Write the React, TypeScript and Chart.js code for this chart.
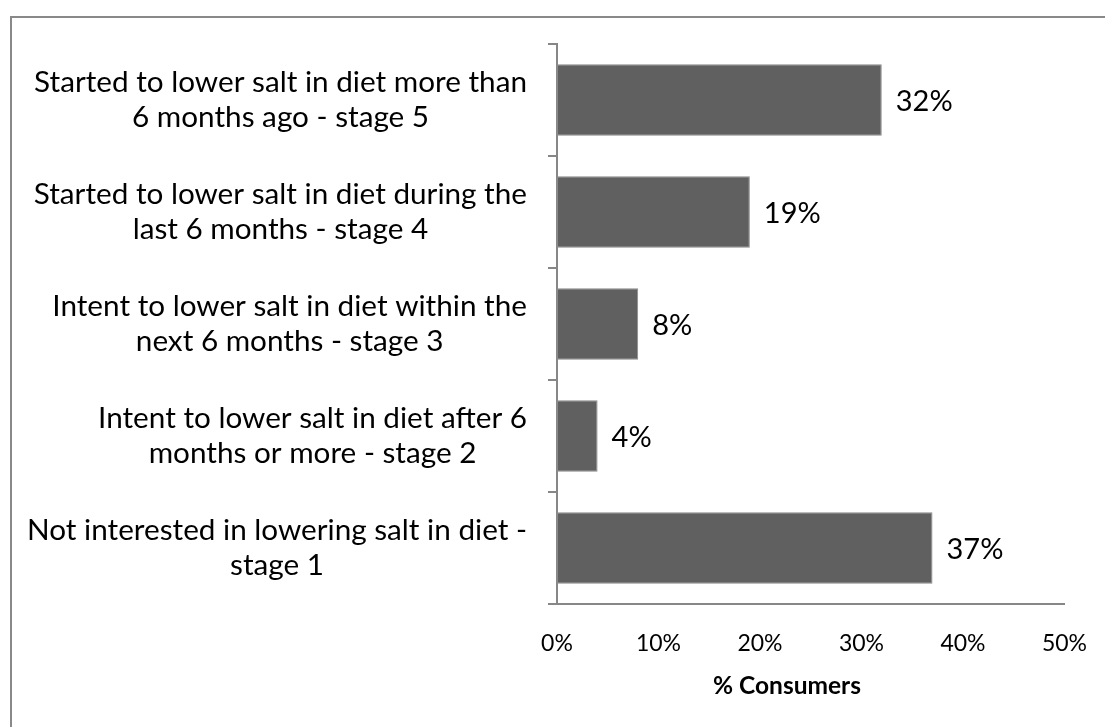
import React, { useEffect, useRef } from "react";
import { Chart, registerables } from "chart.js";

Chart.register(...registerables);

const categories: string[][] = [
  ["Started to lower salt in diet more than", "6 months ago - stage 5"],
  ["Started to lower salt in diet during the", "last 6 months - stage 4"],
  ["Intent to lower salt in diet within the", "next 6 months - stage 3"],
  ["Intent to lower salt in diet after 6", "months or more - stage 2"],
  ["Not interested in lowering salt in diet -", "stage 1"],
];
const consumerShare: number[] = [32, 19, 8, 4, 37];
const xTickMax = 50;
const xTickStep = 10;
const xTitle = "% Consumers";

const FONT = "Lato, 'Noto Sans', sans-serif";
const LABEL_SIZE = 29.7;
const AXIS_COLOR = "#878787";

export default function App() {
  const canvasRef = useRef<HTMLCanvasElement | null>(null);

  useEffect(() => {
    document.body.style.margin = "0";
    const canvas = canvasRef.current;
    if (!canvas) return;

    const labelPlugin = {
      id: "customLabels",
      afterDraw(chart: any) {
        const ctx = chart.ctx;
        const yScale = chart.scales.y;
        const meta = chart.getDatasetMeta(0);
        ctx.save();
        ctx.fillStyle = "#000";
        ctx.font = `${LABEL_SIZE}px ${FONT}`;
        ctx.textBaseline = "middle";
        const lineH = 35;
        const rightEdge = yScale.right - 30;
        categories.forEach((lines, i) => {
          const cy = yScale.getPixelForTick(i);
          const widest = Math.max(...lines.map((l) => ctx.measureText(l).width));
          const cx = rightEdge - widest / 2;
          ctx.textAlign = "center";
          lines.forEach((l, j) => {
            const y = cy + (j - (lines.length - 1) / 2) * lineH;
            ctx.fillText(l, cx, y);
          });
        });
        // value labels
        ctx.font = `29px ${FONT}`;
        ctx.textAlign = "left";
        meta.data.forEach((bar: any, i: number) => {
          ctx.fillText(consumerShare[i] + "%", bar.x + 14, bar.y + 2);
        });
        // axis title
        ctx.font = `bold 24.5px ${FONT}`;
        ctx.textAlign = "center";
        ctx.fillText(xTitle, 787, 686);
        ctx.restore();
      },
    };

    const chart = new Chart(canvas, {
      type: "bar",
      data: {
        labels: categories.map((c) => c.join(" ")),
        datasets: [
          {
            data: consumerShare,
            backgroundColor: "#606060",
            borderColor: "#8a8a8a",
            borderWidth: 1,
            borderSkipped: false,
            categoryPercentage: 1,
            barPercentage: 0.64,
          },
        ],
      },
      options: {
        indexAxis: "y",
        responsive: false,
        animation: false,
        layout: { padding: { top: 44, right: 40, left: 0, bottom: 0 } },
        plugins: {
          legend: { display: false },
          tooltip: { enabled: false },
        },
        scales: {
          x: {
            min: 0,
            max: xTickMax,
            ticks: {
              stepSize: xTickStep,
              callback: (v: any) => v + "%",
              color: "#000",
              font: { family: FONT, size: 23 },
              padding: 18,
            },
            grid: { display: false },
            border: { display: true, color: AXIS_COLOR, width: 2 },
            afterFit: (scale: any) => {
              scale.height = 727 - 604;
            },
          },
          y: {
            ticks: { callback: () => "", padding: 0 },
            grid: {
              offset: true,
              drawOnChartArea: false,
              drawTicks: true,
              tickLength: 9,
              color: AXIS_COLOR,
              lineWidth: 2,
            },
            border: { display: true, color: AXIS_COLOR, width: 2 },
            afterFit: (scale: any) => {
              scale.width = 557;
            },
          },
        },
      },
      plugins: [labelPlugin],
    });

    return () => chart.destroy();
  }, []);

  return (
    <div style={{ position: "relative", width: 1105, height: 727, background: "#fff" }}>
      <canvas ref={canvasRef} width={1105} height={727} style={{ display: "block" }} />
      <div
        style={{
          position: "absolute",
          left: 10,
          top: 16,
          right: 0,
          bottom: 0,
          borderTop: "2px solid #898989",
          borderLeft: "2px solid #898989",
          pointerEvents: "none",
        }}
      />
    </div>
  );
}
